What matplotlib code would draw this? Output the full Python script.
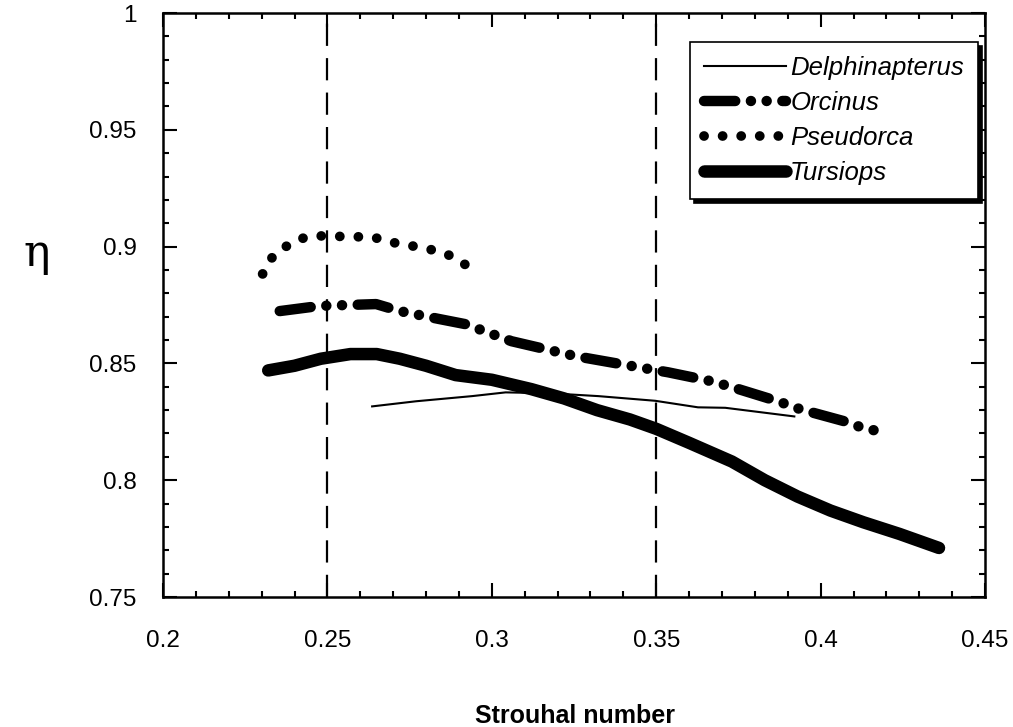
import matplotlib
matplotlib.use('Agg')
import matplotlib.pyplot as plt
from matplotlib.ticker import MultipleLocator

plt.rcParams['font.family'] = ['Liberation Sans', 'DejaVu Sans']

# Кривые
delph_x = [0.2636, 0.277, 0.294, 0.3042, 0.318, 0.3324, 0.3497, 0.3627, 0.371, 0.392]
delph_y = [0.8316, 0.8338, 0.836, 0.8376, 0.8372, 0.836, 0.8340, 0.8312, 0.8310, 0.8273]

orc_x = [0.2355, 0.2476, 0.2648, 0.272, 0.284, 0.292, 0.306, 0.3255, 0.3445, 0.3536,
         0.3667, 0.3727, 0.387, 0.394, 0.4073, 0.4142, 0.419]
orc_y = [0.8724, 0.8746, 0.8754, 0.8724, 0.869, 0.8668, 0.8595, 0.8531, 0.8484, 0.8462,
         0.8424, 0.840, 0.8338, 0.8303, 0.8252, 0.8217, 0.821]

pseud_x = [0.2303, 0.2333, 0.2385, 0.2436, 0.2485, 0.2576, 0.2636, 0.2688, 0.274, 0.284, 0.289, 0.2924]
pseud_y = [0.8883, 0.8956, 0.9012, 0.9042, 0.9046, 0.9042, 0.9042, 0.902, 0.9008, 0.898, 0.8952, 0.8918]

turs_x = [0.232, 0.240, 0.248, 0.257, 0.265, 0.272, 0.280, 0.289, 0.300, 0.312, 0.322,
          0.332, 0.342, 0.350, 0.360, 0.373, 0.383, 0.393, 0.403, 0.413, 0.424, 0.436]
turs_y = [0.847, 0.849, 0.852, 0.854, 0.854, 0.852, 0.849, 0.845, 0.843, 0.839, 0.835,
          0.830, 0.826, 0.822, 0.816, 0.808, 0.800, 0.793, 0.787, 0.782, 0.777, 0.771]

vlines_x = [0.25, 0.35]

xticks = [0.2, 0.25, 0.3, 0.35, 0.4, 0.45]
xtick_labels = ['0.2', '0.25', '0.3', '0.35', '0.4', '0.45']
yticks = [0.75, 0.8, 0.85, 0.9, 0.95, 1.0]
ytick_labels = ['0.75', '0.8', '0.85', '0.9', '0.95', '1']

fig = plt.figure(figsize=(10.13, 7.27), dpi=100)
ax = fig.add_axes([0.1609, 0.1788, 0.8115, 0.8033])

for v in vlines_x:
    ax.axvline(v, color='black', lw=1.6, linestyle=(0, (10, 5.5)))

ax.plot(delph_x, delph_y, color='black', lw=1.5, label='Delphinapterus')
ax.plot(orc_x, orc_y, color='black', lw=7.5, dash_capstyle='round',
        linestyle=(0, (3.0, 1.5, 0.01, 1.5, 0.01, 1.5)), label='Orcinus')
ax.plot(pseud_x, pseud_y, color='black', lw=7, dash_capstyle='round',
        linestyle=(0, (0.01, 1.9)), label='Pseudorca')
ax.plot(turs_x, turs_y, color='black', lw=9, solid_capstyle='round', label='Tursiops')

ax.set_xlim(0.2, 0.45)
ax.set_ylim(0.75, 1.0)
ax.xaxis.set_minor_locator(MultipleLocator(0.01))
ax.yaxis.set_minor_locator(MultipleLocator(0.01))
ax.set_xticks(xticks)
ax.set_xticklabels(xtick_labels)
ax.set_yticks(yticks)
ax.set_yticklabels(ytick_labels)

ax.tick_params(which='both', direction='in', top=True, right=True, width=1.5)
ax.tick_params(which='major', length=10, labelsize=17.5)
ax.tick_params(axis='x', which='major', pad=24)
ax.tick_params(axis='y', which='major', pad=19)
ax.tick_params(which='minor', length=4)
for s in ax.spines.values():
    s.set_linewidth(1.8)

fig.text(0.5676, 0.0055, 'Strouhal number', fontsize=18, fontweight='bold',
         ha='center', va='baseline')
fig.text(0.036, 0.652, 'η', fontsize=32, family='DejaVu Serif', ha='center', va='center')

leg = ax.legend(loc='upper right', bbox_to_anchor=(0.9915, 0.95), borderaxespad=0,
                fancybox=False, shadow={'ox': 3, 'oy': -3, 'color': 'black', 'alpha': 1},
                edgecolor='black', framealpha=1, handlelength=3.2, handletextpad=0.15,
                prop={'style': 'italic', 'size': 18.5}, labelspacing=0.42, borderpad=0.55)
leg.get_frame().set_linewidth(1.2)

fig.savefig('out.png', dpi=100)
